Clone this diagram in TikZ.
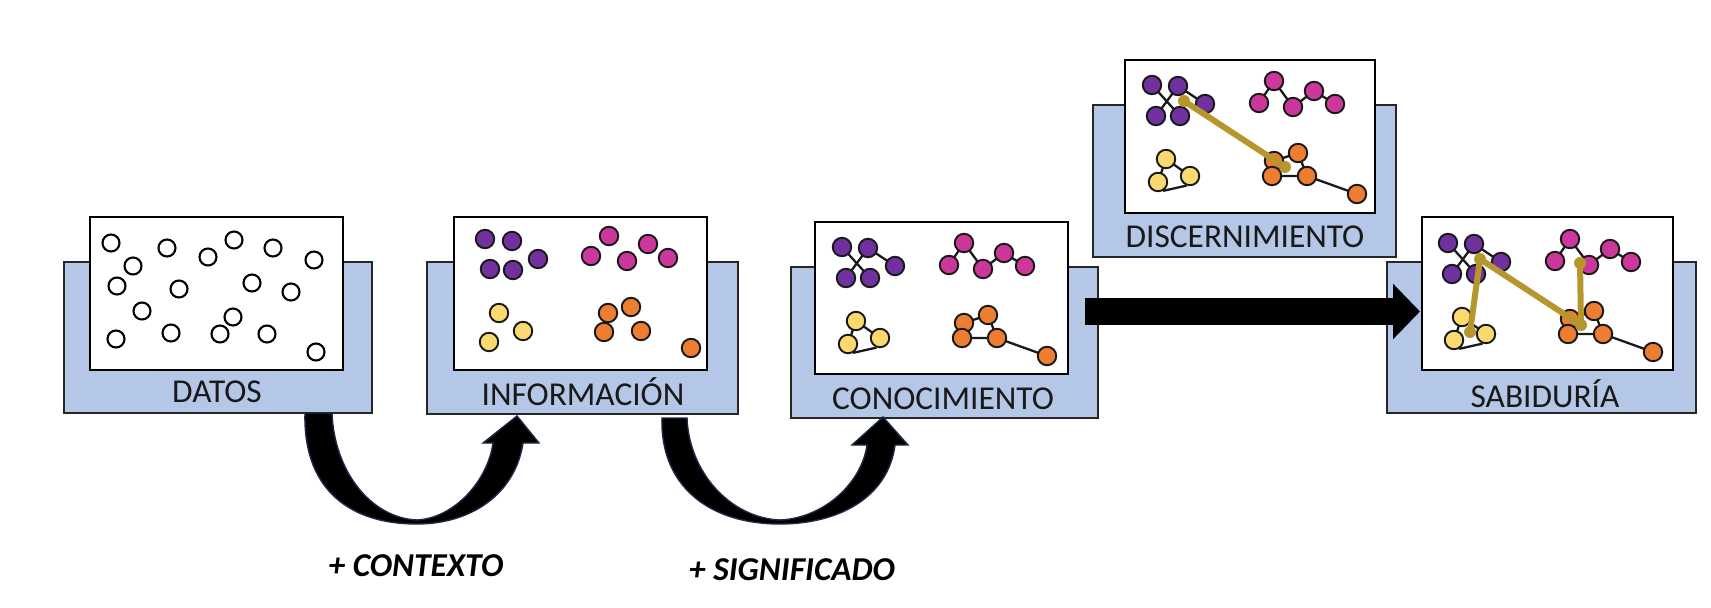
\documentclass[tikz,border=0pt]{standalone}
\usepackage{fontspec}
\setmainfont{Carlito}
\usetikzlibrary{fit,arrows.meta}
\definecolor{panelblue}{RGB}{180,199,231}
\definecolor{cpur}{RGB}{112,48,160}
\definecolor{cmag}{RGB}{204,55,155}
\definecolor{cyel}{RGB}{250,217,110}
\definecolor{cora}{RGB}{237,125,49}
\definecolor{cgold}{RGB}{184,150,46}
\definecolor{arrowedge}{RGB}{30,40,70}
\pgfdeclarelayer{panels}
\pgfdeclarelayer{edges}
\pgfsetlayers{panels,edges,main}
\tikzset{
  panelbg/.style={draw=black!85, fill=panelblue, line width=1.1pt, inner sep=0pt},
  panelfg/.style={draw=black, fill=white, line width=1.1pt, inner sep=0pt},
  lbl/.style={font=\fontsize{19}{22}\selectfont, inner sep=0pt, text=black!90},
  datum/.style={circle, draw=black, fill=white, line width=1.2pt, minimum size=0.34cm, inner sep=0pt},
  dot/.style={circle, draw=black!90, line width=1.1pt, minimum size=0.37cm, inner sep=0pt},
  pur/.style={dot, fill=cpur},
  mag/.style={dot, fill=cmag},
  yel/.style={dot, fill=cyel},
  ora/.style={dot, fill=cora},
  link/.style={draw=black!90, line width=1.3pt},
  goldline/.style={draw=cgold, line width=0.12cm, line cap=round},
  golddot/.style={circle, fill=cgold, minimum size=0.24cm, inner sep=0pt},
  curved/.style={fill=black, draw=arrowedge, line width=0.8pt},
  bigarrow/.style={draw=black, line width=0.54cm, -{Triangle[length=0.54cm,width=1.08cm]}},
  stepnote/.style={font=\fontsize{19}{22}\selectfont\bfseries\itshape, inner sep=0pt}
}
% knowledge graph, drawn in the frame of the CONOCIMIENTO panel
\newcommand\knowgraph[1]{%
  \node[pur] (#1p1) at (842,247) {};
  \node[pur] (#1p2) at (868,248) {};
  \node[pur] (#1p3) at (846,278) {};
  \node[pur] (#1p4) at (870,278) {};
  \node[pur] (#1p5) at (895,266) {};
  \node[mag] (#1m1) at (949,265) {};
  \node[mag] (#1m2) at (964,243) {};
  \node[mag] (#1m3) at (983,269) {};
  \node[mag] (#1m4) at (1004,253) {};
  \node[mag] (#1m5) at (1025,266) {};
  \node[yel] (#1y1) at (856,321) {};
  \node[yel] (#1y2) at (880,338) {};
  \node[yel] (#1y3) at (848,344) {};
  \node[ora] (#1o1) at (964,323) {};
  \node[ora] (#1o2) at (988,315) {};
  \node[ora] (#1o3) at (962,338) {};
  \node[ora] (#1o4) at (997,338) {};
  \node[ora] (#1o5) at (1047,356) {};
  \coordinate (#1ga) at (874,263);
  \coordinate (#1go) at (975,329);
  \coordinate (#1gy) at (864,336);
  \coordinate (#1gm) at (974,267);
  \begin{pgfonlayer}{edges}
    \draw[link] (#1p1.center) -- (#1p4.center);
    \draw[link] (#1p2.center) -- (#1p3.center);
    \draw[link] (#1p2.center) -- (#1p5.center);
    \draw[link] (#1m1.center) -- (#1m2.center) -- (#1m3.center) -- (#1m4.center) -- (#1m5.center);
    \draw[link] (#1y1.center) -- (#1y2.center);
    \draw[link] (#1y1.center) -- (#1y3.center);
    \draw[link] (#1y3.-60) -- (#1y2.-110);
    \draw[link] (#1o1.center) -- (#1o2.center) -- (#1o4.center) -- (#1o3.center) -- (#1o1.center);
    \draw[link] (#1o4.center) -- (#1o5.center);
  \end{pgfonlayer}
}
\begin{document}
\begin{tikzpicture}[x=0.02cm, y=-0.02cm]
\useasboundingbox (0,0) rectangle (1711,608);

% ---------- panels ----------
\begin{pgfonlayer}{panels}
  \node[panelbg, fit={(64,262)(372,413)}] (datos-bg) {};
  \node[panelfg, fit={(90,217)(343,370)}] (datos-fg) {};
  \node[panelbg, fit={(427,262)(738,414)}] (info-bg) {};
  \node[panelfg, fit={(454,217)(707,370)}] (info-fg) {};
  \node[panelbg, fit={(791,267)(1098,418)}] (conoc-bg) {};
  \node[panelfg, fit={(815,222)(1068,374)}] (conoc-fg) {};
  \node[panelbg, fit={(1093,105)(1396,257)}] (disc-bg) {};
  \node[panelfg, fit={(1125,60)(1375,213)}] (disc-fg) {};
  \node[panelbg, fit={(1387,262)(1696,413)}] (sab-bg) {};
  \node[panelfg, fit={(1422,217)(1673,370)}] (sab-fg) {};
\end{pgfonlayer}

\node[lbl] (datos-l) at (217,392) {DATOS};
\node[lbl] (info-l) at (583,392) {INFORMACIÓN};
\node[lbl] (conoc-l) at (943,399) {CONOCIMIENTO};
\node[lbl] (disc-l) at (1245,237) {DISCERNIMIENTO};
\node[lbl] (sab-l) at (1545,394) {SABIDURÍA};

% ---------- DATOS ----------
\foreach \x/\y [count=\i] in {111/243,167/248,208/257,234/240,273/248,314/260,133/266,117/286,179/289,252/283,291/292,142/311,233/317,116/339,171/333,220/334,267/334,316/352}
  \node[datum] (d\i) at (\x,\y) {};

% ---------- INFORMACION ----------
\foreach \x/\y [count=\i] in {485/239,512/241,490/269,513/270,538/259}
  \node[pur] (ip\i) at (\x,\y) {};
\foreach \x/\y [count=\i] in {609/236,648/244,591/256,627/261,668/258}
  \node[mag] (im\i) at (\x,\y) {};
\foreach \x/\y [count=\i] in {499/313,523/331,489/342}
  \node[yel] (iy\i) at (\x,\y) {};
\foreach \x/\y [count=\i] in {608/313,631/307,604/332,641/331,691/348}
  \node[ora] (io\i) at (\x,\y) {};

% ---------- CONOCIMIENTO ----------
\knowgraph{c}

% ---------- DISCERNIMIENTO ----------
\begin{scope}[shift={(310,-162)}]
  \knowgraph{k}
  \draw[goldline] (kga) -- (kgo);
  \node[golddot] (kgad) at (kga) {};
  \node[golddot] (kgod) at (kgo) {};
\end{scope}

% ---------- SABIDURIA ----------
\begin{scope}[shift={(606,-4)}]
  \knowgraph{s}
  \draw[goldline] (sgy) -- (sga) -- (sgo) -- (sgm);
  \node[golddot] (sgad) at (sga) {};
  \node[golddot] (sgod) at (sgo) {};
  \node[golddot] (sgyd) at (sgy) {};
  \node[golddot] (sgmd) at (sgm) {};
\end{scope}

% ---------- big arrow ----------
\coordinate (bigstart) at (1085,311.5);
\coordinate (bigend) at (1420,311.5);
\draw[bigarrow] (bigstart) -- (bigend);

% ---------- curved arrows ----------
\fill[curved] (305,413) -- (332,413)
  .. controls (334,470) and (370,518) .. (417,520)
  .. controls (455,518) and (488,480) .. (493,443)
  -- (483,443) -- (517,416) -- (539,443) -- (523,443)
  .. controls (515,495) and (470,524) .. (417,524)
  .. controls (345,524) and (303,485) .. (305,413) -- cycle;
\fill[curved] (662,418) -- (687,418)
  .. controls (689,472) and (730,518) .. (780,520)
  .. controls (825,518) and (862,482) .. (867,445)
  -- (852,445) -- (883,417) -- (908,445) -- (895,445)
  .. controls (888,498) and (838,524) .. (780,524)
  .. controls (708,524) and (660,485) .. (662,418) -- cycle;

\node[stepnote] (ctx) at (416,566) {+ CONTEXTO};
\node[stepnote] (sig) at (792,570) {+ SIGNIFICADO};
\end{tikzpicture}
\end{document}
